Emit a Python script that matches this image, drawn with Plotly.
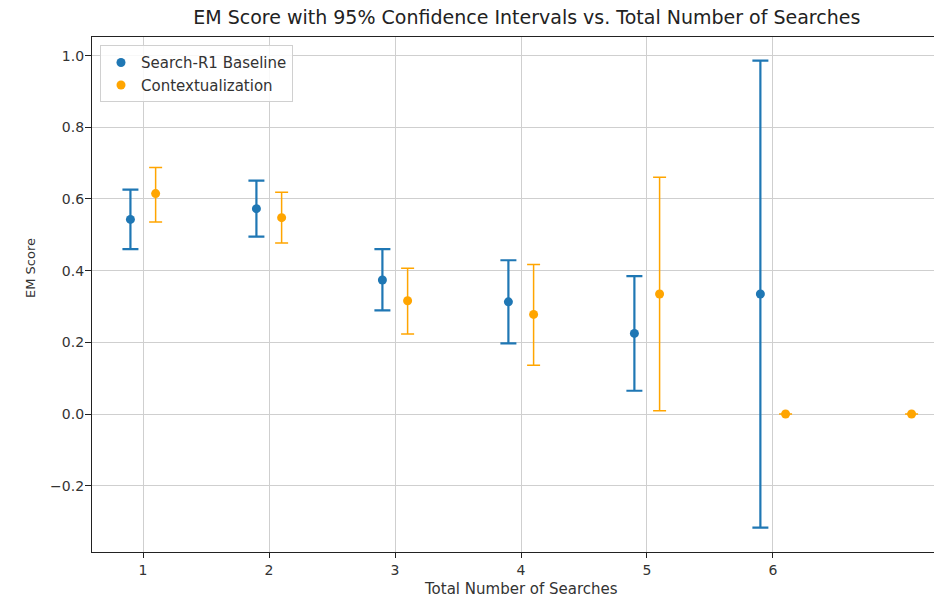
import plotly.graph_objects as go

# Data
searches_base = [1, 2, 3, 4, 5, 6]
em_base = [0.543, 0.573, 0.374, 0.313, 0.225, 0.335]
lo_base = [0.460, 0.495, 0.289, 0.197, 0.065, -0.317]
hi_base = [0.626, 0.651, 0.460, 0.429, 0.385, 0.986]

searches_ctx = [1, 2, 3, 4, 5, 6, 7]
em_ctx = [0.615, 0.548, 0.316, 0.278, 0.335, 0.0, 0.0]
lo_ctx = [0.536, 0.477, 0.223, 0.136, 0.009, 0.0, 0.0]
hi_ctx = [0.688, 0.619, 0.407, 0.417, 0.661, 0.0, 0.0]

x_ticks = [1, 2, 3, 4, 5, 6]
y_ticks = [-0.2, 0.0, 0.2, 0.4, 0.6, 0.8, 1.0]
y_tick_text = ["\u22120.2", "0.0", "0.2", "0.4", "0.6", "0.8", "1.0"]

BLUE = "#1f77b4"
ORANGE = "#FFA500"
FONT = "DejaVu Sans"

fig = go.Figure()
fig.add_trace(go.Scatter(
    x=[s - 0.1 for s in searches_base], y=em_base, mode="markers",
    name="Search-R1 Baseline",
    marker=dict(color=BLUE, size=9),
    error_y=dict(type="data", symmetric=False,
                 array=[h - m for h, m in zip(hi_base, em_base)],
                 arrayminus=[m - l for m, l in zip(em_base, lo_base)],
                 color=BLUE, thickness=2.2, width=8),
))
fig.add_trace(go.Scatter(
    x=[s + 0.1 for s in searches_ctx], y=em_ctx, mode="markers",
    name="Contextualization",
    marker=dict(color=ORANGE, size=9),
    error_y=dict(type="data", symmetric=False,
                 array=[h - m for h, m in zip(hi_ctx, em_ctx)],
                 arrayminus=[m - l for m, l in zip(em_ctx, lo_ctx)],
                 color=ORANGE, thickness=1.5, width=6.5),
))

fig.update_layout(
    width=934, height=597,
    margin=dict(l=92, r=0, t=37, b=45),
    paper_bgcolor="white", plot_bgcolor="white",
    font=dict(family=FONT, size=13, color="#333333"),
    title=dict(text="EM Score with 95% Confidence Intervals vs. Total Number of Searches",
               x=0.564, xref="container", xanchor="center",
               y=1 - 17 / 597, yref="container", yanchor="middle",
               font=dict(family=FONT, size=19, color="#222222")),
    showlegend=True,
    legend=dict(x=0.0095, y=0.984, xanchor="left", yanchor="top",
                bgcolor="rgba(255,255,255,0.85)", bordercolor="#d0d0d0", borderwidth=1,
                font=dict(family=FONT, size=15, color="#333333")),
    annotations=[
        dict(text="Total Number of Searches", xref="paper", yref="paper",
             x=(521 - 92) / 842, y=-(589 - 552) / 515, xanchor="center", yanchor="middle",
             showarrow=False, font=dict(family=FONT, size=15, color="#333333")),
        dict(text="EM Score", xref="paper", yref="paper", textangle=-90,
             x=-(92 - 30) / 842, y=(552 - 268) / 515, xanchor="center", yanchor="middle",
             showarrow=False, font=dict(family=FONT, size=13, color="#333333")),
    ],
)
fig.update_xaxes(
    range=[0.595, 7.278], tickvals=x_ticks, ticktext=[str(t) for t in x_ticks],
    showgrid=True, gridcolor="#cfcfcf", gridwidth=1,
    showline=True, linecolor="#222222", linewidth=1.2, mirror=True,
    ticks="outside", ticklen=5, tickcolor="#222222",
    zeroline=False, automargin=False,
    tickfont=dict(family=FONT, size=14),
)
fig.update_yaxes(
    range=[-0.385, 1.052], tickvals=y_ticks, ticktext=y_tick_text,
    showgrid=True, gridcolor="#cfcfcf", gridwidth=1,
    showline=True, linecolor="#222222", linewidth=1.2,
    ticks="outside", ticklen=6, tickcolor="#222222",
    ticklabelstandoff=-2,
    zeroline=False, automargin=False,
    tickfont=dict(family=FONT, size=14),
)

fig.write_html(
    "out.html",
    config={"responsive": False, "displayModeBar": False},
    post_script="document.body.style.margin='0px';document.body.style.overflow='hidden';",
)
